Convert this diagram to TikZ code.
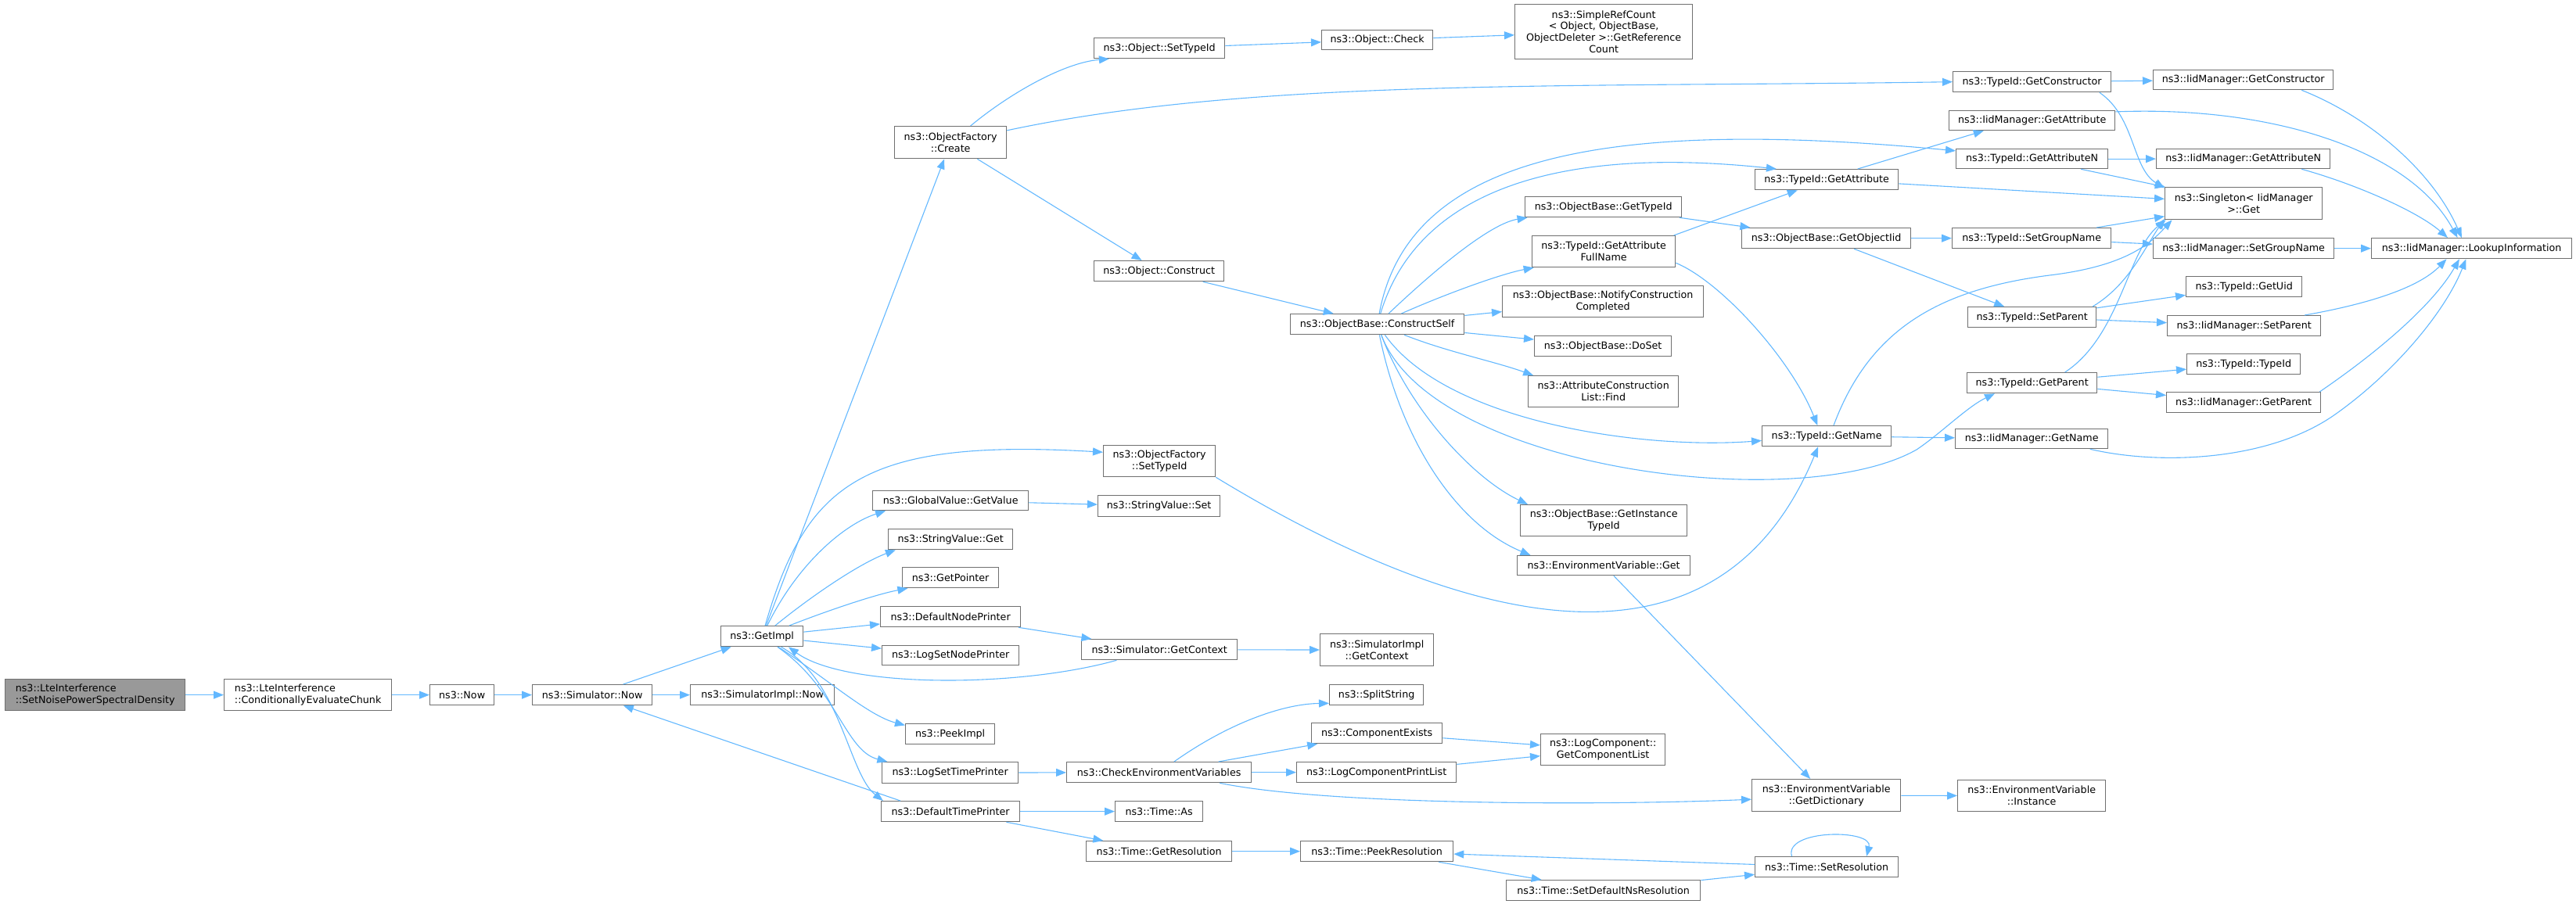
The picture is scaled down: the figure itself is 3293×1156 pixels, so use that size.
\documentclass[tikz,border=0pt]{standalone}
\usepackage{fontspec}
\setmainfont{DejaVu Sans}
\usepackage{tikz}
\usetikzlibrary{arrows.meta}
\usetikzlibrary{calc}

\definecolor{edgeblue}{HTML}{63B8FF}
\definecolor{boxgray}{HTML}{707070}
\definecolor{rootgray}{HTML}{999999}
\newcommand{\fnfont}{\fontsize{12.7}{14.8}\selectfont}

\begin{document}
\begin{tikzpicture}[x=1pt, y=-1pt,
    fn/.style 2 args={draw=boxgray, fill=white, line width=1.3pt, font=\fnfont, align=center,
        inner sep=1pt, anchor=north west, minimum width=#1, minimum height=#2},
    call/.style={draw=edgeblue, line width=1.1pt, -{Triangle[length=13pt,width=10pt]}}]
        \useasboundingbox (0,0) rectangle (3293,1156);

        % left part
        \node[fn={230}{40}, fill=rootgray, align=left] (root) at (6,868) {ns3::LteInterference\\::SetNoisePowerSpectralDensity};
        \node[fn={214}{40}, align=left] (cec) at (286,868) {ns3::LteInterference\\::ConditionallyEvaluateChunk};
        \node[fn={82}{26}] (now) at (549,875) {ns3::Now};
        \node[fn={153}{26}] (simnow) at (680,875) {ns3::Simulator::Now};
        \node[fn={184}{26}] (simimplnow) at (882,875) {ns3::SimulatorImpl::Now};
        \node[fn={105}{26}] (getimpl) at (921,800) {ns3::GetImpl};

        \node[fn={143}{41}] (create) at (1143,161) {ns3::ObjectFactory\\::Create};
        \node[fn={167}{26}] (objsettypeid) at (1398,48) {ns3::Object::SetTypeId};
        \node[fn={142}{25}] (objcheck) at (1689,38) {ns3::Object::Check};
        \node[fn={227}{70}] (refcount) at (1936,5) {ns3::SimpleRefCount\\< Object, ObjectBase,\\ObjectDeleter >::GetReference\\Count};
        \node[fn={166}{26}] (construct) at (1398,333) {ns3::Object::Construct};
        \node[fn={222}{26}] (constructself) at (1649,401) {ns3::ObjectBase::ConstructSelf};
        \node[fn={200}{26}] (getobjtypeid) at (1949,251) {ns3::ObjectBase::GetTypeId};
        \node[fn={183}{40}] (fullname) at (1958,301) {ns3::TypeId::GetAttribute\\FullName};
        \node[fn={257}{40}] (notify) at (1920,365) {ns3::ObjectBase::NotifyConstruction\\Completed};
        \node[fn={175}{26}] (doset) at (1961,429) {ns3::ObjectBase::DoSet};
        \node[fn={192}{40}] (find) at (1953,480) {ns3::AttributeConstruction\\List::Find};
        \node[fn={213}{40}] (instancetypeid) at (1943,645) {ns3::ObjectBase::GetInstance\\TypeId};
        \node[fn={221}{25}] (envget) at (1939,710) {ns3::EnvironmentVariable::Get};

        \node[fn={143}{40}] (ofsettypeid) at (1410,569) {ns3::ObjectFactory\\::SetTypeId};
        \node[fn={199}{25}] (getvalue) at (1115,627) {ns3::GlobalValue::GetValue};
        \node[fn={156}{27}] (svset) at (1403,633) {ns3::StringValue::Set};
        \node[fn={159}{26}] (svget) at (1135,676) {ns3::StringValue::Get};
        \node[fn={123}{26}] (getpointer) at (1153,725) {ns3::GetPointer};
        \node[fn={179}{26}] (nodeprinter) at (1125,775) {ns3::DefaultNodePrinter};
        \node[fn={175}{25}] (lognodeprinter) at (1127,825) {ns3::LogSetNodePrinter};
        \node[fn={199}{26}] (simgetctx) at (1382,817) {ns3::Simulator::GetContext};
        \node[fn={145}{41}] (implgetctx) at (1687,810) {ns3::SimulatorImpl\\::GetContext};
        \node[fn={120}{26}] (splitstring) at (1699,875) {ns3::SplitString};
        \node[fn={114}{26}] (peekimpl) at (1157,925) {ns3::PeekImpl};
        \node[fn={167}{26}] (compexists) at (1676,924) {ns3::ComponentExists};
        \node[fn={159}{40}] (complist) at (1969,938) {ns3::LogComponent::\\GetComponentList};
        \node[fn={174}{27}] (logtimeprinter) at (1127,974) {ns3::LogSetTimePrinter};
        \node[fn={236}{26}] (checkenv) at (1363,974) {ns3::CheckEnvironmentVariables};
        \node[fn={204}{26}] (printlist) at (1657,974) {ns3::LogComponentPrintList};
        \node[fn={177}{26}] (timeprinter) at (1126,1024) {ns3::DefaultTimePrinter};
        \node[fn={112}{26}] (timeas) at (1425,1024) {ns3::Time::As};
        \node[fn={186}{26}] (getres) at (1388,1075) {ns3::Time::GetResolution};
        \node[fn={195}{26}] (peekres) at (1662,1075) {ns3::Time::PeekResolution};
        \node[fn={248}{26}] (setdefns) at (1925,1125) {ns3::Time::SetDefaultNsResolution};
        \node[fn={183}{26}] (setres) at (2243,1095) {ns3::Time::SetResolution};
        \node[fn={190}{41}] (getdict) at (2239,996) {ns3::EnvironmentVariable\\::GetDictionary};
        \node[fn={189}{40}] (envinstance) at (2502,997) {ns3::EnvironmentVariable\\::Instance};

        % right part
        \node[fn={202}{26}] (getconstructor) at (2496,91) {ns3::TypeId::GetConstructor};
        \node[fn={230}{25}] (iidgetconstructor) at (2752,89) {ns3::IidManager::GetConstructor};
        \node[fn={212}{25}] (iidgetattr) at (2491,141) {ns3::IidManager::GetAttribute};
        \node[fn={194}{25}] (getattrn) at (2500,190) {ns3::TypeId::GetAttributeN};
        \node[fn={222}{25}] (iidgetattrn) at (2756,190) {ns3::IidManager::GetAttributeN};
        \node[fn={183}{26}] (getattr) at (2243,216) {ns3::TypeId::GetAttribute};
        \node[fn={201}{41}] (singleton) at (2767,239) {ns3::Singleton< IidManager\\>::Get};
        \node[fn={216}{26}] (getobjiid) at (2226,291) {ns3::ObjectBase::GetObjectIid};
        \node[fn={203}{26}] (setgroup) at (2495,291) {ns3::TypeId::SetGroupName};
        \node[fn={231}{26}] (iidsetgroup) at (2752,304) {ns3::IidManager::SetGroupName};
        \node[fn={256}{26}] (lookup) at (3031,304) {ns3::IidManager::LookupInformation};
        \node[fn={148}{26}] (getuid) at (2794,353) {ns3::TypeId::GetUid};
        \node[fn={164}{26}] (setparent) at (2515,392) {ns3::TypeId::SetParent};
        \node[fn={196}{26}] (iidsetparent) at (2770,403) {ns3::IidManager::SetParent};
        \node[fn={145}{26}] (typeid) at (2795,452) {ns3::TypeId::TypeId};
        \node[fn={166}{26}] (getparent) at (2514,476) {ns3::TypeId::GetParent};
        \node[fn={197}{26}] (iidgetparent) at (2769,501) {ns3::IidManager::GetParent};
        \node[fn={165}{26}] (getname) at (2252,544) {ns3::TypeId::GetName};
        \node[fn={195}{25}] (iidgetname) at (2499,548) {ns3::IidManager::GetName};

        \draw[call] (root) -- (cec);
        \draw[call] (cec) -- (now);
        \draw[call] (now) -- (simnow);
        \draw[call] (simnow) -- (getimpl);
        \draw[call] (simnow) -- (simimplnow);
        \draw[call] (getimpl) -- (create);
        \draw[call] (getimpl) .. controls (1030,620) and (1100,560) .. (ofsettypeid.171);
        \draw[call] (getimpl) .. controls (1020,720) and (1080,670) .. (getvalue.189);
        \draw[call] (getimpl) .. controls (1040,760) and (1100,720) .. (svget.191);
        \draw[call] (getimpl) .. controls (1060,780) and (1120,760) .. (getpointer.194);
        \draw[call] (getimpl) -- (nodeprinter);
        \draw[call] (getimpl) -- (lognodeprinter);
        \draw[call] (getimpl) .. controls (1060,870) and (1110,915) .. (peekimpl.169);
        \draw[call] (getimpl) .. controls (1070,880) and (1080,960) .. (logtimeprinter.170);
        \draw[call] (getimpl) .. controls (1075,870) and (1085,990) .. (timeprinter.171);
        \draw[call] (simgetctx.194) .. controls (1300,880) and (1080,880) .. (getimpl.-22);
        \draw[call] (nodeprinter) -- (simgetctx);
        \draw[call] (simgetctx) -- (implgetctx);
        \draw[call] (getvalue) -- (svset);
        \draw[call] (logtimeprinter) -- (checkenv);
        \draw[call] (checkenv) .. controls (1570,925) and (1640,900) .. (splitstring.190);
        \draw[call] (checkenv) -- (compexists);
        \draw[call] (checkenv) -- (printlist);
        \draw[call] (checkenv.-10) .. controls (1700,1030) and (2050,1030) .. (getdict.183);
        \draw[call] (compexists) -- (complist);
        \draw[call] (printlist) -- (complist);
        \draw[call] (timeprinter) -- (timeas);
        \draw[call] (timeprinter) -- (getres);
        \draw[call] (timeprinter.168) -- (simnow);
        \draw[call] (getres) -- (peekres);
        \draw[call] (peekres) -- (setdefns);
        \draw[call] (setdefns) -- (setres);
        \draw[call] (setres) -- (peekres);
        \draw[call] (setres.163) .. controls (2280,1060) and (2395,1060) .. (setres.15);
        \draw[call] (ofsettypeid.south east) .. controls (1800,760) and (2180,920) .. (getname.231);

        \draw[call] (create) .. controls (1290,120) and (1360,80) .. (objsettypeid.192);
        \draw[call] (create.12) .. controls (1600,100) and (2000,112) .. (getconstructor.west);
        \draw[call] (create) -- (construct);
        \draw[call] (objsettypeid) -- (objcheck);
        \draw[call] (objcheck) -- (refcount);
        \draw[call] (construct) -- (constructself);
        \draw[call] (constructself) .. controls (1850,330) and (1910,285) .. (getobjtypeid.188);
        \draw[call] (constructself) .. controls (1850,375) and (1920,350) .. (fullname.193);
        \draw[call] (constructself) -- (notify);
        \draw[call] (constructself) -- (doset);
        \draw[call] (constructself) .. controls (1850,450) and (1910,462) .. (find.167);
        \draw[call] (constructself) .. controls (1800,520) and (1880,610) .. (instancetypeid.168);
        \draw[call] (constructself) .. controls (1790,560) and (1860,670) .. (envget.172);
        \draw[call] (constructself) .. controls (1810,250) and (1980,185) .. (getattr.168);
        \draw[call] (constructself) .. controls (1800,200) and (2050,150) .. (getattrn.174);
        \draw[call] (constructself) .. controls (1850,540) and (2100,575) .. (getname.184);
        \draw[call] (constructself) .. controls (1830,600) and (2300,660) .. (2450,575)
            .. controls (2480,555) and (2515,520) .. (getparent.196);
        \draw[call] (getobjtypeid) -- (getobjiid);
        \draw[call] (fullname.13) -- (getattr);
        \draw[call] (fullname.-9) .. controls (2200,360) and (2290,460) .. (getname.131);
        \draw[call] (getattr.19) -- (iidgetattr.192);
        \draw[call] (getattr) -- (singleton);
        \draw[call] (getobjiid) -- (setgroup);
        \draw[call] (getobjiid) -- (setparent);
        \draw[call] (getconstructor) -- (iidgetconstructor);
        \draw[call] (getconstructor.-9) .. controls (2730,150) and (2725,215) .. (singleton.169);
        \draw[call] (getattrn) -- (iidgetattrn);
        \draw[call] (getattrn) -- (singleton);
        \draw[call] (setgroup) -- (singleton);
        \draw[call] (setgroup) -- (iidsetgroup);
        \draw[call] (setparent.10) .. controls (2720,365) and (2740,320) .. (singleton.191);
        \draw[call] (setparent) -- (getuid);
        \draw[call] (setparent) -- (iidsetparent);
        \draw[call] (getparent.18) .. controls (2710,430) and (2720,320) .. (singleton.192);
        \draw[call] (getparent) -- (typeid);
        \draw[call] (getparent) -- (iidgetparent);
        \draw[call] (getname.57) .. controls (2390,420) and (2480,370) .. (2620,352)
            .. controls (2720,340) and (2750,310) .. (singleton.193);
        \draw[call] (getname) -- (iidgetname);
        \draw[call] (iidgetconstructor.-10) .. controls (3030,150) and (3110,220) .. (lookup.133);
        \draw[call] (iidgetattr.6) .. controls (2900,135) and (3080,190) .. (lookup.143);
        \draw[call] (iidgetattrn.-10) .. controls (3010,235) and (3090,270) .. (lookup.156);
        \draw[call] (iidsetgroup) -- (lookup);
        \draw[call] (iidsetparent.10) .. controls (3020,390) and (3090,370) .. (lookup.203);
        \draw[call] (iidgetparent.8) .. controls (3040,450) and (3110,390) .. (lookup.221);
        \draw[call] (iidgetname.-10) .. controls (2760,595) and (2900,590) .. (2985,530)
            .. controls (3060,477) and (3125,400) .. (lookup.242);
        \draw[call] (envget) -- (getdict);
        \draw[call] (getdict) -- (envinstance);

        \end{tikzpicture}
\end{document}
